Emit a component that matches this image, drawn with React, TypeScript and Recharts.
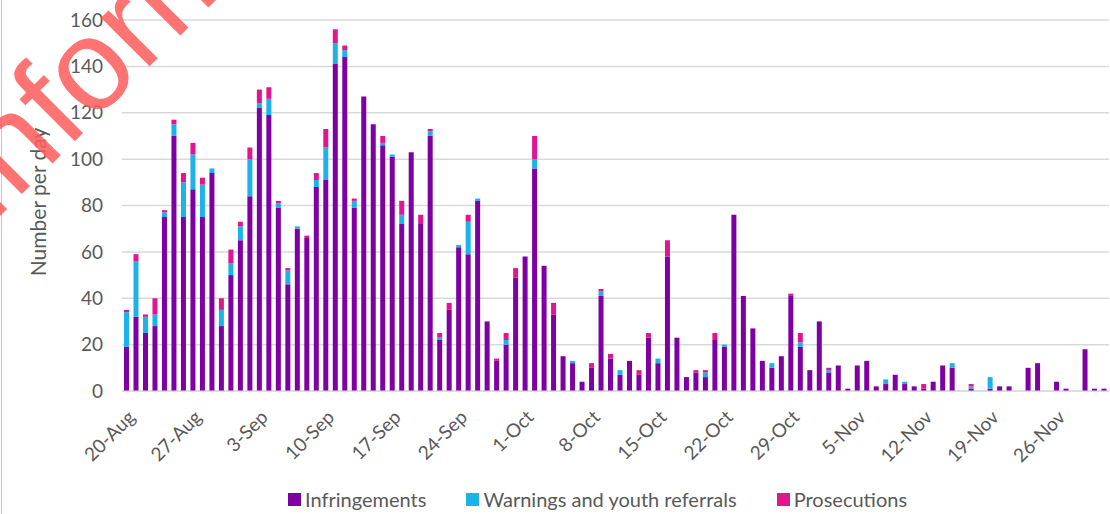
import { Bar, BarChart, CartesianGrid, Legend, XAxis, YAxis } from 'recharts';

const FONT = 'Lato, "Open Sans", sans-serif';
const TEXT = '#595959';

// first day shown is 20-Aug, one bar per day
const MONTHS = [
  { name: 'Aug', days: 31 },
  { name: 'Sep', days: 30 },
  { name: 'Oct', days: 31 },
  { name: 'Nov', days: 30 },
  { name: 'Dec', days: 31 },
];
const START_DAY = 20;
const DAY_COUNT = 104;

const INFRINGEMENTS = [
  19, 32, 25, 28, 75, 110, 75, 87, 75, 94, 28, 50, 65, 84, 122, 119, 79, 46, 70, 66,
  88, 91, 141, 144, 79, 127, 115, 106, 101, 72, 103, 72, 110, 22, 35, 62, 59, 82, 30, 13,
  20, 49, 58, 96, 54, 33, 15, 12, 4, 10, 41, 14, 7, 13, 7, 23, 12, 58, 23, 6,
  8, 6, 22, 19, 76, 41, 27, 13, 10, 15, 41, 19, 9, 30, 8, 11, 1, 11, 13, 2,
  3, 7, 3, 2, 1, 4, 11, 10, 0, 1, 0, 1, 2, 2, 0, 10, 12, 0, 4, 1,
  0, 18, 1, 1,
];
const WARNINGS = [
  15, 24, 7, 5, 2, 5, 15, 15, 14, 2, 7, 5, 6, 16, 2, 7, 2, 6, 1, 0,
  3, 14, 9, 3, 3, 0, 0, 1, 1, 4, 0, 0, 2, 1, 0, 1, 14, 1, 0, 0,
  2, 0, 0, 4, 0, 0, 0, 1, 0, 0, 2, 0, 2, 0, 0, 0, 2, 0, 0, 0,
  0, 2, 0, 1, 0, 0, 0, 0, 2, 0, 0, 2, 0, 0, 1, 0, 0, 0, 0, 0,
  2, 0, 1, 0, 0, 0, 0, 2, 0, 1, 0, 5, 0, 0, 0, 0, 0, 0, 0, 0,
  0, 0, 0, 0,
];
const PROSECUTIONS = [
  1, 3, 1, 7, 1, 2, 4, 5, 3, 0, 5, 6, 2, 5, 6, 5, 1, 1, 0, 1,
  3, 8, 6, 2, 1, 0, 0, 3, 0, 6, 0, 4, 1, 2, 3, 0, 3, 0, 0, 1,
  3, 4, 0, 10, 0, 5, 0, 0, 0, 2, 1, 2, 0, 0, 2, 2, 0, 7, 0, 0,
  1, 1, 3, 0, 0, 0, 0, 0, 0, 0, 1, 4, 0, 0, 1, 0, 0, 0, 0, 0,
  0, 0, 0, 0, 2, 0, 0, 0, 0, 1, 0, 0, 0, 0, 0, 0, 0, 0, 0, 0,
  0, 0, 0, 0,
];

const Y_TICKS = [0, 20, 40, 60, 80, 100, 120, 140, 160];

const SERIES = [
  { key: 'infringements', name: 'Infringements', color: '#7E00A3' },
  { key: 'warnings', name: 'Warnings and youth referrals', color: '#1DB2E8' },
  { key: 'prosecutions', name: 'Prosecutions', color: '#E2148E' },
];

function buildDates() {
  const out: string[] = [];
  let m = 0;
  let d = START_DAY;
  while (out.length < DAY_COUNT) {
    out.push(`${d}-${MONTHS[m].name}`);
    d += 1;
    if (d > MONTHS[m].days) {
      d = 1;
      m += 1;
    }
  }
  return out;
}

const DATES = buildDates();

const data = DATES.map((date, i) => ({
  date,
  infringements: INFRINGEMENTS[i],
  warnings: WARNINGS[i],
  prosecutions: PROSECUTIONS[i],
}));

function YTitle() {
  return (
    <text
      x={46}
      y={202}
      transform="rotate(-90 46 202)"
      textAnchor="middle"
      fill={TEXT}
      fontFamily={FONT}
      fontSize={21}
    >
      Number per day
    </text>
  );
}

function LegendRow() {
  return (
    <div
      style={{
        display: 'flex',
        alignItems: 'center',
        height: 30,
        paddingLeft: 288,
        fontFamily: FONT,
        fontSize: 20,
        color: TEXT,
      }}
    >
      {SERIES.map((s) => (
        <span key={s.key} style={{ display: 'flex', alignItems: 'center', marginRight: 40 }}>
          <span style={{ width: 13, height: 13, background: s.color, marginRight: 4 }} />
          {s.name}
        </span>
      ))}
    </div>
  );
}

export default function App() {
  return (
    <div style={{ position: 'absolute', left: 0, top: 0, width: 1110, height: 514, background: '#fff' }}>
      <div style={{ position: 'absolute', left: 1, top: 0, width: 1, height: 514, background: '#c9c9c9' }} />
      <BarChart
        width={1110}
        height={514}
        data={data}
        margin={{ top: 20, right: 1, left: 0, bottom: 0 }}
        barSize={5}
      >
        <CartesianGrid vertical={false} stroke="#d9d9d9" strokeWidth={1.5} />
        <XAxis
          dataKey="date"
          interval={6}
          height={93}
          tickLine={false}
          axisLine={{ stroke: '#d9d9d9' }}
          angle={-45}
          textAnchor="end"
          tick={{ fill: TEXT, fontSize: 19, fontFamily: FONT }}
          tickMargin={12}
        />
        <YAxis
          width={122}
          domain={[0, 160]}
          ticks={Y_TICKS}
          axisLine={false}
          tickLine={false}
          tickMargin={13}
          tick={{ fill: TEXT, fontSize: 19, fontFamily: FONT }}
          label={<YTitle />}
        />
        <Legend
          verticalAlign="bottom"
          content={<LegendRow />}
          wrapperStyle={{ left: 0, bottom: 0, width: 1110 }}
        />
        {SERIES.map((s) => (
          <Bar
            key={s.key}
            dataKey={s.key}
            name={s.name}
            stackId="day"
            fill={s.color}
            isAnimationActive={false}
          />
        ))}
      </BarChart>
      <svg
        width={1110}
        height={514}
        style={{ position: 'absolute', left: 0, top: 0, pointerEvents: 'none' }}
      >
        <text
          x={-10}
          y={226}
          transform="rotate(-45 -10 226)"
          fill="#ff5a5a"
          fillOpacity={0.85}
          fontFamily='"Liberation Sans", Arial, sans-serif'
          fontSize={130}
        >
          Information
        </text>
      </svg>
    </div>
  );
}
